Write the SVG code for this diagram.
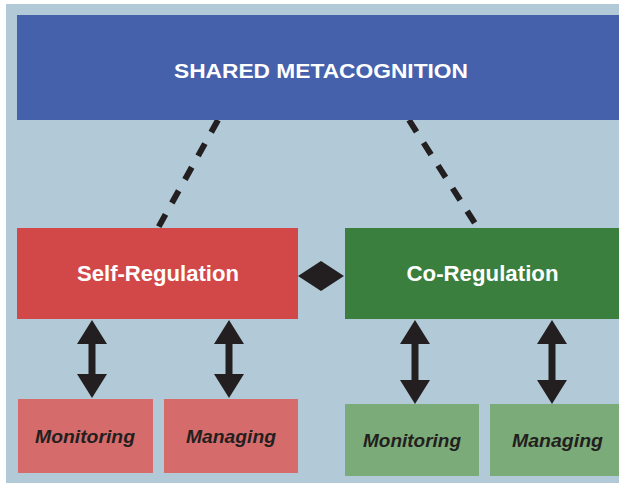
<svg xmlns="http://www.w3.org/2000/svg" width="619" height="488" viewBox="0 0 619 488">
<style>
.lbl{font-family:"Liberation Sans",Arial,sans-serif;font-weight:bold;fill:#ffffff;text-anchor:middle}
.sub{font-family:"Liberation Sans",Arial,sans-serif;font-style:italic;font-weight:bold;fill:#231f20;text-anchor:middle;font-size:18px}
.dash{stroke:#231f20;stroke-width:6;stroke-dasharray:14 13;fill:none}
.arr{fill:#231f20}
</style>
<rect x="0" y="0" width="619" height="488" fill="#ffffff"/>
<rect x="6" y="4" width="613" height="479" fill="#b2cad7"/>
<g id="connectors">
<line class="dash" x1="218" y1="120" x2="158" y2="228"/>
<line class="dash" x1="409" y1="120" x2="478" y2="228"/>
<polygon class="arr" points="298,276 321,261 344,276 321,291"/>
<polygon class="arr" points="92,320 107,344 95.5,344 95.5,374 107,374 92,398 77,374 88.5,374 88.5,344 77,344"/>
<polygon class="arr" points="229,320 244,344 232.5,344 232.5,374 244,374 229,398 214,374 225.5,374 225.5,344 214,344"/>
<polygon class="arr" points="415,320 430,344 418.5,344 418.5,380 430,380 415,404 400,380 411.5,380 411.5,344 400,344"/>
<polygon class="arr" points="552,320 567,344 555.5,344 555.5,380 567,380 552,404 537,380 548.5,380 548.5,344 537,344"/>
</g>
<g id="shared">
<rect x="17" y="15" width="602" height="105" fill="#4661ac"/>
<text class="lbl" x="321" y="78" font-size="21" textLength="294" lengthAdjust="spacingAndGlyphs">SHARED METACOGNITION</text>
</g>
<g id="self">
<rect x="17" y="228" width="281" height="91" fill="#d24848"/>
<text class="lbl" x="158" y="281" font-size="22" textLength="162" lengthAdjust="spacingAndGlyphs">Self-Regulation</text>
</g>
<g id="co">
<rect x="345" y="228" width="274" height="91" fill="#3a7f3d"/>
<text class="lbl" x="482.5" y="281" font-size="22" textLength="152" lengthAdjust="spacingAndGlyphs">Co-Regulation</text>
</g>
<g id="self-monitoring">
<rect x="18" y="399" width="135" height="74" fill="#d56c6b"/>
<text class="sub" x="85" y="443" textLength="100" lengthAdjust="spacingAndGlyphs">Monitoring</text>
</g>
<g id="self-managing">
<rect x="164" y="399" width="134" height="74" fill="#d56c6b"/>
<text class="sub" x="231" y="443" textLength="90" lengthAdjust="spacingAndGlyphs">Managing</text>
</g>
<g id="co-monitoring">
<rect x="345" y="404" width="134" height="72" fill="#7bab78"/>
<text class="sub" x="412" y="447" textLength="98" lengthAdjust="spacingAndGlyphs">Monitoring</text>
</g>
<g id="co-managing">
<rect x="490" y="404" width="129" height="72" fill="#7bab78"/>
<text class="sub" x="557.5" y="447" textLength="91" lengthAdjust="spacingAndGlyphs">Managing</text>
</g>
</svg>
